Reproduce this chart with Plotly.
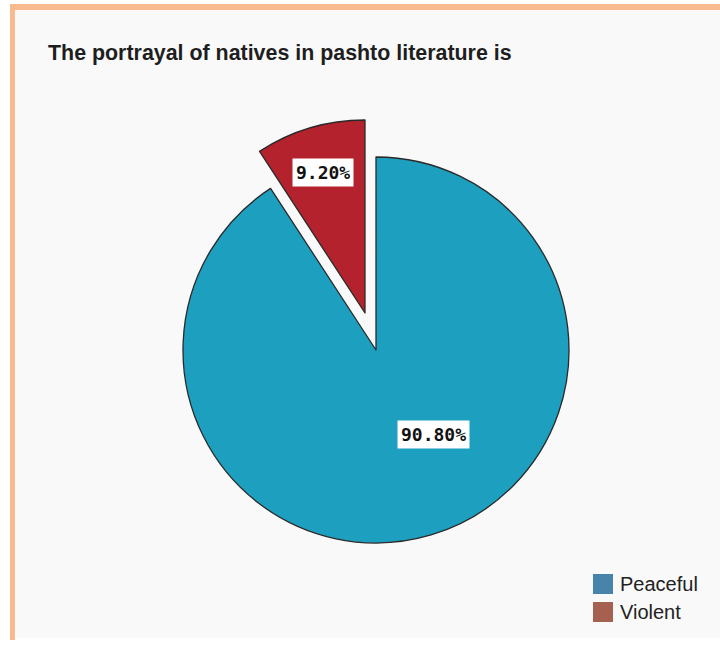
import math
import plotly.graph_objects as go

# Survey result: how natives are portrayed in Pashto literature
categories = ["Peaceful", "Violent"]
shares = [90.8, 9.2]
slice_colors = ["#1d9fbf", "#b3222d"]
legend_colors = ["#4783ab", "#a6604f"]
title_text = "The portrayal of natives in pashto literature is"

W, H = 720, 646

# Pie geometry (pixels)
cx, cy, radius = 376, 350, 193
pull_amount = 0.2
pulls = [0, pull_amount]
half_box = radius * (1 + pull_amount)


def px_to_paper(x, y):
    return x / W, 1 - y / H


fig = go.Figure()

fig.add_trace(go.Pie(
    labels=categories,
    values=shares,
    sort=False,
    direction="clockwise",
    rotation=0,
    pull=pulls,
    marker=dict(colors=slice_colors, line=dict(color="#2a2a2a", width=1.3)),
    textinfo="none",
    hoverinfo="label+percent",
    showlegend=False,
    domain=dict(
        x=[(cx - half_box) / W, (cx + half_box) / W],
        y=[1 - (cy + half_box) / H, 1 - (cy - half_box) / H],
    ),
))

# Percentage labels with white boxes, placed along each slice's bisector
# (angle offset in degrees, distance as a fraction of the radius)
label_style = [(-17.5, 0.53), (0.0, 0.76)]
total = sum(shares)
start = 0.0
for val, p, (dang, frac) in zip(shares, pulls, label_style):
    span = 360 * val / total
    mid = start + span / 2  # clockwise from 12 o'clock
    start += span
    ang = math.radians(mid + dang)
    ux, uy = math.sin(ang), -math.cos(ang)  # screen direction (y down)
    ox, oy = cx + p * radius * ux, cy + p * radius * uy
    lx, ly = ox + frac * radius * ux, oy + frac * radius * uy
    ax, ay = px_to_paper(lx, ly)
    fig.add_annotation(
        x=ax, y=ay, xref="paper", yref="paper",
        text=f"{val:.2f}%", showarrow=False,
        font=dict(family="DejaVu Sans Mono", size=18, color="#111111", weight="bold"),
        bgcolor="#ffffff", borderpad=3,
        xanchor="center", yanchor="middle",
    )

# Frame: orange border on top and left, light panel inside
shapes = [
    dict(type="rect", xref="paper", yref="paper", layer="below",
         x0=15 / W, x1=1, y0=1 - 638 / H, y1=1 - 10 / H,
         fillcolor="#f9f9f9", line=dict(width=0)),
    dict(type="rect", xref="paper", yref="paper", layer="below",
         x0=10 / W, x1=1, y0=1 - 10 / H, y1=1 - 4 / H,
         fillcolor="#f7bb8f", line=dict(width=0)),
    dict(type="rect", xref="paper", yref="paper", layer="below",
         x0=10 / W, x1=15 / W, y0=1 - 640 / H, y1=1 - 4 / H,
         fillcolor="#f7bb8f", line=dict(width=0)),
]

# Legend: coloured squares with category names
legend_x, legend_top, legend_step, swatch = 593, 574, 28, 20
for i, (name, col) in enumerate(zip(categories, legend_colors)):
    y0 = legend_top + i * legend_step
    shapes.append(dict(
        type="rect", xref="paper", yref="paper",
        x0=legend_x / W, x1=(legend_x + swatch) / W,
        y0=1 - (y0 + swatch) / H, y1=1 - y0 / H,
        fillcolor=col, line=dict(width=0),
    ))
    fig.add_annotation(
        x=(legend_x + swatch + 5) / W, y=1 - (y0 + swatch / 2) / H,
        xref="paper", yref="paper", text=name, showarrow=False,
        xanchor="left", yanchor="middle",
        font=dict(family="Liberation Sans, Arial, sans-serif", size=20, color="#222222"),
    )

fig.update_layout(
    width=W, height=H,
    margin=dict(l=0, r=0, t=0, b=0),
    paper_bgcolor="#ffffff",
    plot_bgcolor="rgba(0,0,0,0)",
    shapes=shapes,
    title=dict(
        text=title_text,
        x=48 / W, xanchor="left", xref="paper",
        y=1 - 45 / H, yanchor="top", yref="container",
        font=dict(family="Liberation Sans, Arial, sans-serif", size=21.4,
                  color="#1e1e1e", weight="bold"),
    ),
    showlegend=False,
)

fig.write_html("out.html")
